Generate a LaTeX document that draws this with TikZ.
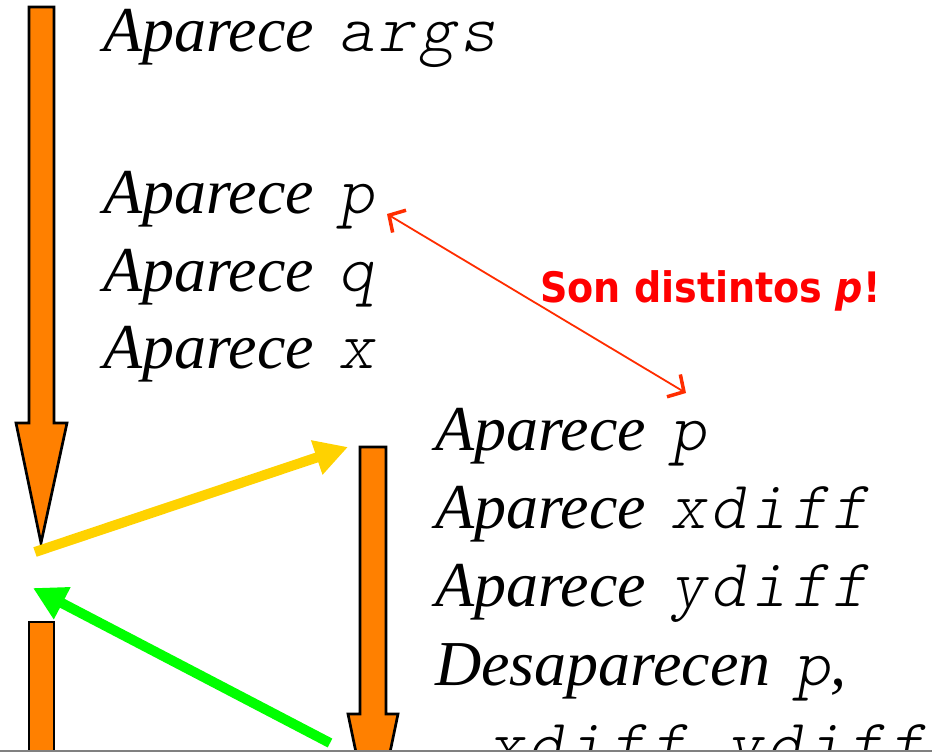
\documentclass[tikz,border=0pt]{standalone}
\usepackage{fontspec}
\setmainfont{Liberation Serif}
\newfontfamily\cwfont{Latin Modern Mono Light}[FakeSlant=0.18, LetterSpace=7.5, Scale=1.06]
\newfontfamily\sonfont{DejaVu Sans}
\usetikzlibrary{arrows.meta}
\definecolor{blockorange}{RGB}{255,128,0}
\definecolor{goldline}{RGB}{255,210,0}
\definecolor{greenline}{RGB}{0,255,0}
\definecolor{redline}{RGB}{255,45,0}
\definecolor{redtext}{RGB}{255,0,0}
\tikzset{
  blockarrow/.style={fill=blockorange, draw=black, line width=2.7pt, line join=miter},
  codeline/.style={anchor=base west, inner sep=0pt, font=\fontsize{64}{78}\selectfont\itshape},
  thickarrow/.style={line width=10pt, -{Triangle[length=33pt,width=34pt]}},
  noteline/.style={draw=redline, line width=1.8pt, {Straight Barb[length=12pt,width=26pt,line width=3.5pt]}-{Straight Barb[length=12pt,width=26pt,line width=3.5pt]}},
}
\newcommand{\cw}[1]{\hspace{24pt}{\cwfont\upshape #1}}
\begin{document}
\begin{tikzpicture}[x=1pt,y=-1pt]
\useasboundingbox (0,0) rectangle (932,752);
\clip (0,0) rectangle (932,752);
\fill[white] (0,0) rectangle (932,752);

% block arrows
\draw[blockarrow] (29,7) -- (54,7) -- (54,423) -- (67,423) -- (41,543) -- (16,423) -- (29,423) -- cycle;
\draw[blockarrow] (29,622) -- (54,622) -- (54,800) -- (29,800) -- cycle;
\draw[blockarrow] (360,447) -- (386,447) -- (386,714) -- (398,714) -- (373,834) -- (348,714) -- (360,714) -- cycle;

% texts
\node[codeline] (t1) at (103,52) {Aparece\cw{args}};
\node[codeline] (t2) at (103,213) {Aparece\cw{p}};
\node[codeline] (t3) at (103,291) {Aparece\cw{q}};
\node[codeline] (t4) at (103,368) {Aparece\cw{x}};
\node[codeline] (r1) at (435,450) {Aparece\cw{p}};
\node[codeline] (r2) at (435,528) {Aparece\cw{xdiff}};
\node[codeline] (r3) at (435,606) {Aparece\cw{ydiff}};
\node[codeline] (r4) at (435,685) {Desaparecen\cw{p},};
\node[codeline] (r5) at (464,766) {\cw{xdiff},\cw{ydiff}};

\node[anchor=base west, inner sep=0pt, text=redtext, xscale=0.907,
      font=\sonfont\bfseries\fontsize{42}{50}\selectfont] (note) at (540,302) {Son distintos \textit{p}!};

% connectors
\coordinate (ya) at (35,552);
\coordinate (yb) at (348,447);
\coordinate (ga) at (330,743);
\coordinate (gb) at (33,588);
\coordinate (ra) at (387,214);
\coordinate (rb) at (686,393);
\draw[thickarrow, draw=goldline, fill=goldline] (ya) -- (yb);
\draw[thickarrow, draw=greenline, fill=greenline] (ga) -- (gb);
\draw[noteline] (ra) -- (rb);

% bottom edge
\draw[draw={rgb,255:red,128;green,128;blue,128}, line width=1.5pt] (0,751.2) -- (932,751.2);
\end{tikzpicture}
\end{document}
